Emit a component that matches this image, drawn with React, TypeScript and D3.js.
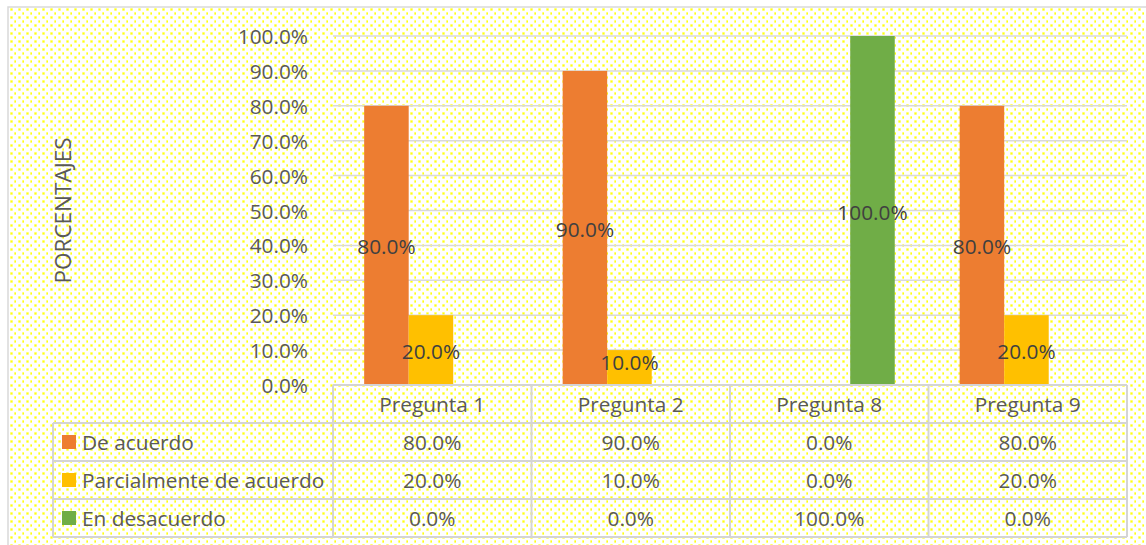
import React from "react";
import * as d3 from "d3";

const categories = ["Pregunta 1", "Pregunta 2", "Pregunta 8", "Pregunta 9"];
const seriesNames = ["De acuerdo", "Parcialmente de acuerdo", "En desacuerdo"];
const deAcuerdo = [0.8, 0.9, 0.0, 0.8];
const parcialmente = [0.2, 0.1, 0.0, 0.2];
const desacuerdo = [0.0, 0.0, 1.0, 0.0];
const seriesValues = [deAcuerdo, parcialmente, desacuerdo];
const seriesColors = ["#ED7D31", "#FFC000", "#70AD47"];
const yTicks = [0, 0.1, 0.2, 0.3, 0.4, 0.5, 0.6, 0.7, 0.8, 0.9, 1.0];
const yTitle = "PORCENTAJES";

const W = 1146;
const H = 545;
const FONT = "'Open Sans', 'Noto Sans', sans-serif";
const FS = 20.8;

export default function App() {
  const plotLeft = 333;
  const plotRight = 1127;
  const plotTop = 36;
  const plotBottom = 385;
  const rowH = 38;
  const tableLeft = 53;

  const x0 = d3.scaleBand<string>().domain(categories).range([plotLeft, plotRight]).padding(0);
  const step = x0.bandwidth();
  const x1 = d3
    .scaleBand<string>()
    .domain(seriesNames)
    .range([step * 0.157, step * 0.83])
    .padding(0);
  const y = d3.scaleLinear().domain([0, 1]).range([plotBottom, plotTop]);
  const fmt = d3.format(".1%");

  const gridColor = "#d9d9d9";
  const tableColor = "#d4d4d4";

  const headerTop = plotBottom;
  const rowsTop = headerTop + rowH;
  const tableBottom = rowsTop + rowH * seriesNames.length;

  return (
    <svg
      width={W}
      height={H}
      style={{ position: "absolute", left: 0, top: 0, display: "block" }}
      fontFamily={FONT}
    >
      <defs>
        <pattern id="dots" patternUnits="userSpaceOnUse" width={8} height={8} x={0} y={0}>
          <rect x={0} y={0} width={8} height={8} fill="#ffffff" />
          <rect x={2} y={0} width={3} height={3} fill="#ffffc4" />
          <rect x={6} y={4} width={3} height={3} fill="#ffffc4" />
          <rect x={2.5} y={0.5} width={2} height={2} fill="#ffff10" />
          <rect x={6.5} y={4.5} width={2} height={2} fill="#ffff10" />
        </pattern>
      </defs>
      <rect x={0} y={0} width={W} height={H} fill="#ffffff" />
      <rect x={8} y={7} width={W} height={H} fill="url(#dots)" stroke="#d9d9d9" strokeWidth={1.5} />

      {/* gridlines */}
      {yTicks.map((t) => (
        <line
          key={"g" + t}
          x1={plotLeft}
          x2={plotRight}
          y1={y(t)}
          y2={y(t)}
          stroke={gridColor}
          strokeWidth={1.5}
          opacity={t === 0 ? 0 : 1}
        />
      ))}

      {/* y tick labels */}
      {yTicks.map((t) => (
        <text
          key={"t" + t}
          x={308}
          y={y(t)}
          textAnchor="end"
          dominantBaseline="central"
          fontSize={FS}
          fill="#595959"
        >
          {fmt(t)}
        </text>
      ))}

      {/* y title */}
      <text
        transform={`translate(62,${(plotTop + plotBottom) / 2}) rotate(-90)`}
        textAnchor="middle"
        dominantBaseline="central"
        fontSize={22.5}
        fill="#595959"
      >
        {yTitle}
      </text>

      {/* bars */}
      {categories.map((c, ci) => (
        <g key={c} transform={`translate(${x0(c)},0)`}>
          {seriesNames.map((s, si) => {
            const v = seriesValues[si][ci];
            if (v <= 0) return null;
            return (
              <rect
                key={s}
                x={x1(s)}
                y={y(v)}
                width={x1.bandwidth()}
                height={y(0) - y(v)}
                fill={seriesColors[si]}
              />
            );
          })}
        </g>
      ))}

      {/* data labels */}
      {categories.map((c, ci) =>
        seriesNames.map((s, si) => {
          const v = seriesValues[si][ci];
          if (v <= 0) return null;
          const cx = (x0(c) as number) + (x1(s) as number) + x1.bandwidth() / 2;
          const mid = (y(v) + y(0)) / 2;
          const cy = Math.min(mid + 1, y(0) - 23);
          return (
            <text
              key={c + s}
              x={cx}
              y={cy}
              textAnchor="middle"
              dominantBaseline="central"
              fontSize={FS}
              fill="#404040"
            >
              {fmt(v)}
            </text>
          );
        })
      )}

      {/* data table */}
      <g fill="none" stroke={tableColor} strokeWidth={2}>
        <line x1={plotLeft} x2={plotRight} y1={headerTop} y2={headerTop} />
        {seriesNames.map((s, i) => (
          <line key={"h" + s} x1={tableLeft} x2={plotRight} y1={rowsTop + i * rowH} y2={rowsTop + i * rowH} />
        ))}
        <line x1={tableLeft} x2={plotRight} y1={tableBottom} y2={tableBottom} />
        <line x1={tableLeft} x2={tableLeft} y1={rowsTop} y2={tableBottom} />
        {categories.map((c) => (
          <line key={"v" + c} x1={x0(c)} x2={x0(c)} y1={headerTop} y2={tableBottom} />
        ))}
        <line x1={plotRight} x2={plotRight} y1={headerTop} y2={tableBottom} />
      </g>

      {categories.map((c) => (
        <text
          key={"hc" + c}
          x={(x0(c) as number) + step / 2}
          y={headerTop + rowH / 2}
          textAnchor="middle"
          dominantBaseline="central"
          fontSize={FS}
          fill="#595959"
        >
          {c}
        </text>
      ))}

      {seriesNames.map((s, si) => {
        const cy = rowsTop + si * rowH + rowH / 2;
        return (
          <g key={"row" + s}>
            <rect x={62} y={cy - 7} width={14} height={14} fill={seriesColors[si]} />
            <text x={82} y={cy} dominantBaseline="central" fontSize={FS} fill="#595959">
              {s}
            </text>
            {categories.map((c, ci) => (
              <text
                key={c}
                x={(x0(c) as number) + step / 2}
                y={cy}
                textAnchor="middle"
                dominantBaseline="central"
                fontSize={FS}
                fill="#595959"
              >
                {fmt(seriesValues[si][ci])}
              </text>
            ))}
          </g>
        );
      })}
    </svg>
  );
}
